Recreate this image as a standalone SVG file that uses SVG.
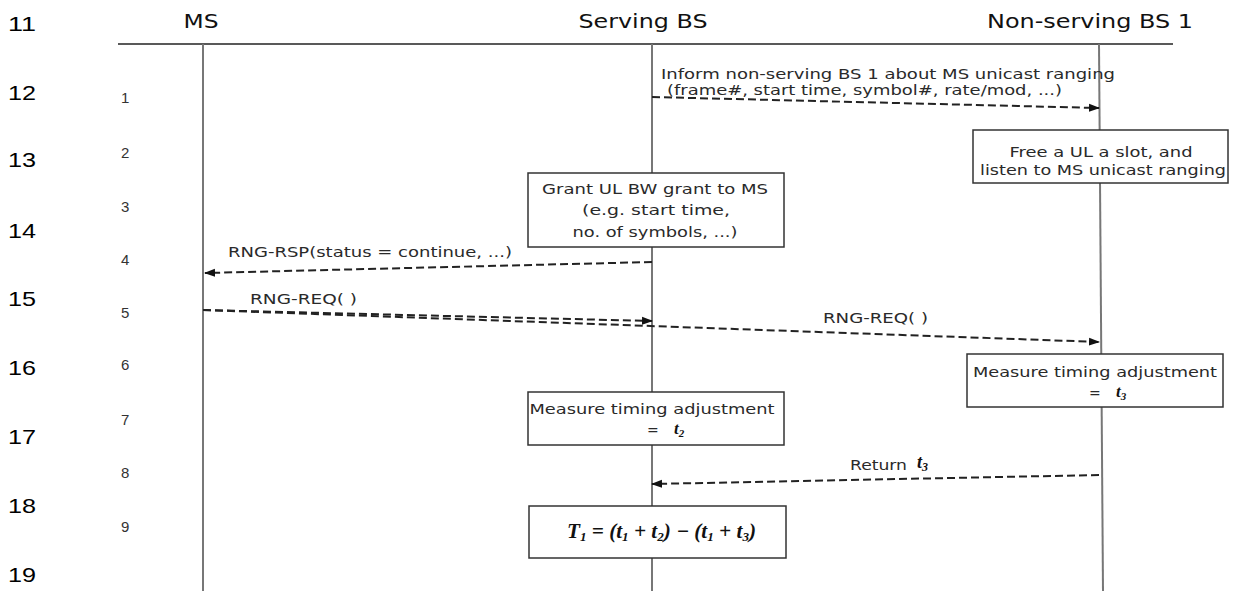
<svg xmlns="http://www.w3.org/2000/svg" width="1234" height="591" viewBox="0 0 1234 591">
<defs>
<marker id="ah" markerWidth="11" markerHeight="9" refX="10" refY="4.5" orient="auto" markerUnits="userSpaceOnUse"><path d="M0,0.5 L11,4.5 L0,8.5 z" fill="#111"/></marker>
<style>
.ln{font-family:"Liberation Sans",Arial,sans-serif;font-size:21px;fill:#000}
.st{font-family:"Liberation Sans",Arial,sans-serif;font-size:15px;fill:#333}
.hd{font-family:"DejaVu Sans",Verdana,sans-serif;font-size:19px;fill:#111}
.tx{font-family:"DejaVu Sans",Verdana,sans-serif;font-size:14px;fill:#2a2a2a}
.m{font-family:"Liberation Serif","Times New Roman",serif;font-weight:bold;font-style:italic;fill:#111}
.box{fill:#fff;stroke:#333;stroke-width:1.5}
.life{stroke:#777;stroke-width:2;fill:none}
.rule{stroke:#222;stroke-width:1.5;fill:none}
.msg{stroke:#222;stroke-width:2;stroke-dasharray:8 4;fill:none}
</style>
</defs>
<rect width="1234" height="591" fill="#fff"/>
<g id="line-numbers">
<text class="ln" x="8" y="31" textLength="28" lengthAdjust="spacingAndGlyphs">11</text>
<text class="ln" x="8" y="100" textLength="28" lengthAdjust="spacingAndGlyphs">12</text>
<text class="ln" x="8" y="167" textLength="28" lengthAdjust="spacingAndGlyphs">13</text>
<text class="ln" x="8" y="238" textLength="28" lengthAdjust="spacingAndGlyphs">14</text>
<text class="ln" x="8" y="306" textLength="28" lengthAdjust="spacingAndGlyphs">15</text>
<text class="ln" x="8" y="375" textLength="28" lengthAdjust="spacingAndGlyphs">16</text>
<text class="ln" x="8" y="444" textLength="28" lengthAdjust="spacingAndGlyphs">17</text>
<text class="ln" x="8" y="513" textLength="28" lengthAdjust="spacingAndGlyphs">18</text>
<text class="ln" x="8" y="582" textLength="28" lengthAdjust="spacingAndGlyphs">19</text>
</g>
<g id="steps">
<text class="st" x="121" y="103">1</text>
<text class="st" x="121" y="158">2</text>
<text class="st" x="121" y="212">3</text>
<text class="st" x="121" y="265">4</text>
<text class="st" x="121" y="318">5</text>
<text class="st" x="121" y="370">6</text>
<text class="st" x="121" y="425">7</text>
<text class="st" x="121" y="478">8</text>
<text class="st" x="121" y="532">9</text>
</g>
<g id="header">
<line class="rule" x1="118" y1="44" x2="1173" y2="44"/>
</g>
<g id="lifeline-ms">
<text class="hd" x="201" y="28" text-anchor="middle" textLength="35" lengthAdjust="spacingAndGlyphs">MS</text>
<line class="life" x1="203" y1="44" x2="203" y2="591"/>
</g>
<g id="lifeline-serving-bs">
<text class="hd" x="643" y="28" text-anchor="middle" textLength="129" lengthAdjust="spacingAndGlyphs">Serving BS</text>
<line class="life" x1="652" y1="44" x2="652" y2="591"/>
</g>
<g id="lifeline-nonserving-bs1">
<text class="hd" x="1090" y="28" text-anchor="middle" textLength="206" lengthAdjust="spacingAndGlyphs">Non-serving BS 1</text>
<line class="life" x1="1099" y1="44" x2="1103" y2="591"/>
</g>
<g id="connectors">
<path class="msg" d="M652,97 L1099,108" marker-end="url(#ah)"/>
<path class="msg" d="M652,262 L205,273" marker-end="url(#ah)"/>
<path class="msg" d="M203,310 L652,321" marker-end="url(#ah)"/>
<path class="msg" d="M203,310 L1099,342" marker-end="url(#ah)"/>
<path class="msg" d="M1099,475 L652,484" marker-end="url(#ah)"/>
<text class="tx" x="661" y="79" textLength="454" lengthAdjust="spacingAndGlyphs">Inform non-serving BS 1 about MS unicast ranging</text>
<text class="tx" x="667" y="95" textLength="395" lengthAdjust="spacingAndGlyphs">(frame#, start time, symbol#, rate/mod, ...)</text>
<text class="tx" x="228" y="257" textLength="284" lengthAdjust="spacingAndGlyphs">RNG-RSP(status = continue, ...)</text>
<text class="tx" x="250" y="304" textLength="107" lengthAdjust="spacingAndGlyphs">RNG-REQ( )</text>
<text class="tx" x="823" y="323" textLength="105" lengthAdjust="spacingAndGlyphs">RNG-REQ( )</text>
<text class="tx" x="850" y="470" textLength="57" lengthAdjust="spacingAndGlyphs">Return</text>
<text class="m" x="917" y="468" font-size="18">t<tspan font-size="12" dy="3">3</tspan></text>
</g>
<g id="node-free-ul-slot">
<rect class="box" x="973" y="130" width="255" height="53"/>
<text class="tx" x="1101" y="157" text-anchor="middle" textLength="183" lengthAdjust="spacingAndGlyphs">Free a UL a slot, and</text>
<text class="tx" x="1103" y="175" text-anchor="middle" textLength="246" lengthAdjust="spacingAndGlyphs">listen to MS unicast ranging</text>
</g>
<g id="node-grant-ul-bw">
<rect class="box" x="528" y="173" width="256" height="74"/>
<text class="tx" x="655" y="194" text-anchor="middle" textLength="226" lengthAdjust="spacingAndGlyphs">Grant UL BW grant to MS</text>
<text class="tx" x="656" y="215" text-anchor="middle" textLength="148" lengthAdjust="spacingAndGlyphs">(e.g. start time,</text>
<text class="tx" x="655" y="237" text-anchor="middle" textLength="165" lengthAdjust="spacingAndGlyphs">no. of symbols, ...)</text>
</g>
<g id="node-measure-t3">
<rect class="box" x="967" y="354" width="256" height="53"/>
<text class="tx" x="1095" y="377" text-anchor="middle" textLength="244" lengthAdjust="spacingAndGlyphs">Measure timing adjustment</text>
<text class="tx" x="1089" y="398">=</text>
<text class="m" x="1116" y="397" font-size="17">t<tspan font-size="11" dy="3">3</tspan></text>
</g>
<g id="node-measure-t2">
<rect class="box" x="528" y="392" width="256" height="53"/>
<text class="tx" x="652" y="414" text-anchor="middle" textLength="245" lengthAdjust="spacingAndGlyphs">Measure timing adjustment</text>
<text class="tx" x="647" y="435">=</text>
<text class="m" x="674" y="434" font-size="17">t<tspan font-size="11" dy="3">2</tspan></text>
</g>
<g id="node-t1-formula">
<rect class="box" x="529" y="506" width="257" height="52"/>
<text class="m" x="567" y="538" font-size="21" textLength="189" lengthAdjust="spacingAndGlyphs">T<tspan font-size="13" dy="3">1</tspan><tspan dy="-3"> = (t</tspan><tspan font-size="13" dy="3">1</tspan><tspan dy="-3"> + t</tspan><tspan font-size="13" dy="3">2</tspan><tspan dy="-3">) − (t</tspan><tspan font-size="13" dy="3">1</tspan><tspan dy="-3"> + t</tspan><tspan font-size="13" dy="3">3</tspan><tspan dy="-3">)</tspan></text>
</g>
</svg>
